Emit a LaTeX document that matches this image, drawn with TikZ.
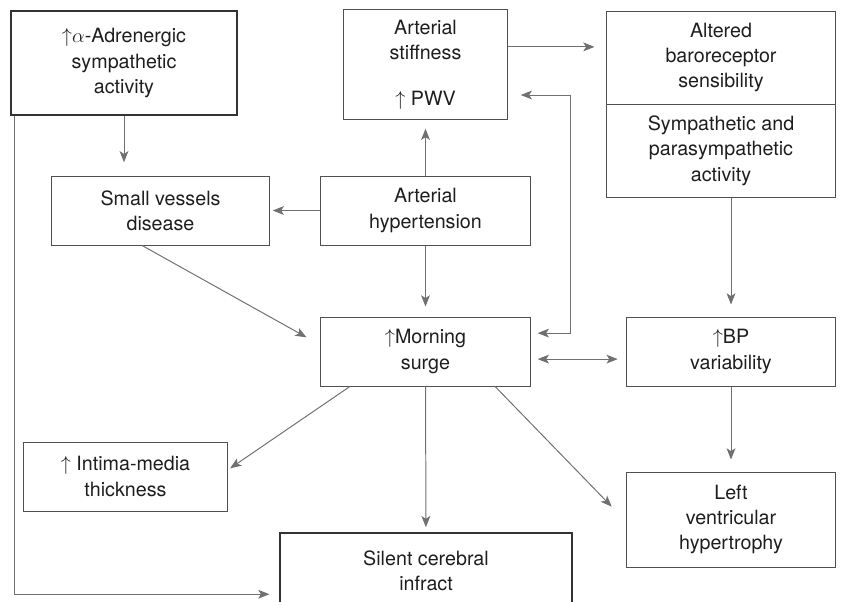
\documentclass[tikz,border=0pt]{standalone}
\usepackage{fontspec}
\setmainfont{TeX Gyre Heros}
\usetikzlibrary{arrows.meta}
\definecolor{lineg}{RGB}{112,112,112}
\definecolor{boxg}{RGB}{80,80,80}
\definecolor{textg}{RGB}{30,30,30}
\tikzset{
  box/.style={draw=boxg,line width=0.7pt,align=center,text=textg,inner sep=2pt,
    font=\fontsize{14}{18}\selectfont},
  darkbox/.style={box,draw=black!80,line width=0.8pt},
  arr/.style={draw=lineg,line width=0.7pt,-{Stealth[length=2.8mm,width=2.2mm,inset=0.7mm]}},
  arrs/.style={arr,{Stealth[length=2.8mm,width=2.2mm,inset=0.7mm]}-{Stealth[length=2.8mm,width=2.2mm,inset=0.7mm]}}
}
\begin{document}
\begin{tikzpicture}[x=0.025cm,y=-0.025cm]
  \useasboundingbox (0,0) rectangle (846,601);
  % boxes
  \node[darkbox,minimum width=5.65cm,minimum height=2.6cm] (adr) at (124,63)
    {${\uparrow}\alpha$-Adrenergic\\sympathetic\\activity};
  \node[box,minimum width=4.075cm,minimum height=2.725cm] (stiff) at (425.5,64.5)
    {Arterial\\stiffness\\[0.5cm]$\uparrow$ PWV};
  \node[box,minimum width=5.7cm,minimum height=2.325cm] (alt) at (721,57.5)
    {Altered\\baroreceptor\\sensibility};
  \node[box,minimum width=5.7cm,minimum height=2.325cm] (symp) at (721,150.5)
    {Sympathetic and\\parasympathetic\\activity};
  \node[box,minimum width=5.425cm,minimum height=1.725cm] (small) at (160.5,210.5)
    {Small vessels\\disease};
  \node[box,minimum width=5.225cm,minimum height=1.725cm] (hyp) at (425.5,210.5)
    {Arterial\\hypertension};
  \node[box,minimum width=5.225cm,minimum height=1.725cm] (morn) at (425.5,351.5)
    {$\uparrow$Morning\\surge};
  \node[box,minimum width=5.2cm,minimum height=1.725cm] (bp) at (731,351.5)
    {$\uparrow$BP\\variability};
  \node[box,minimum width=5.075cm,minimum height=1.725cm] (imt) at (125.5,476.5)
    {$\uparrow$ Intima-media\\thickness};
  \node[box,minimum width=5.2cm,minimum height=2.375cm] (lvh) at (731,519.5)
    {Left\\ventricular\\hypertrophy};
  \node[darkbox,minimum width=7.3cm,minimum height=1.9cm] (sci) at (426,571)
    {Silent cerebral\\infract};
  \coordinate (loop) at (570,95);
  % connectors
  \draw[arr,shorten >=0.33cm] (adr.south) -- (adr.south |- small.north);
  \draw[arr,shorten >=0.08cm] (hyp) -- (small);
  \draw[arr,shorten >=0.23cm] (hyp) -- (stiff);
  \draw[arr,shorten >=0.25cm] (hyp) -- (morn);
  \draw[arr,shorten >=0.3cm] ([yshift=0.44cm]stiff.east) -- ([yshift=0.44cm]stiff.east -| alt.west);
  \draw[arrs,shorten <=0.33cm,shorten >=0.18cm] (stiff.east |- loop) -- (loop) |- ([yshift=0.46cm]morn.east);
  \draw[arrs,shorten <=0.18cm,shorten >=0.22cm] ([yshift=-0.19cm]morn.east) -- ([yshift=-0.19cm]morn.east -| bp.west);
  \draw[arr,shorten >=0.3cm] (bp.north |- symp.south) -- (bp.north);
  \draw[arr,shorten >=0.3cm] (bp) -- (lvh);
  \draw[arr,shorten >=0.4cm] ([xshift=-0.46cm]small.south) -- ([yshift=0.16cm]morn.west);
  \draw[arr,shorten >=0.08cm] ([xshift=-1.89cm]morn.south) -- ([yshift=0.16cm]imt.east);
  \draw[arr,shorten >=0.53cm] ([xshift=1.74cm]morn.south) -- ([yshift=-0.06cm]lvh.west);
  \draw[arr,shorten >=0.13cm] (morn) -- (sci);
  \draw[arr,shorten >=0.25cm] ([xshift=0.1cm]adr.south west) |- ([yshift=-0.58cm]sci.west);
\end{tikzpicture}
\end{document}
